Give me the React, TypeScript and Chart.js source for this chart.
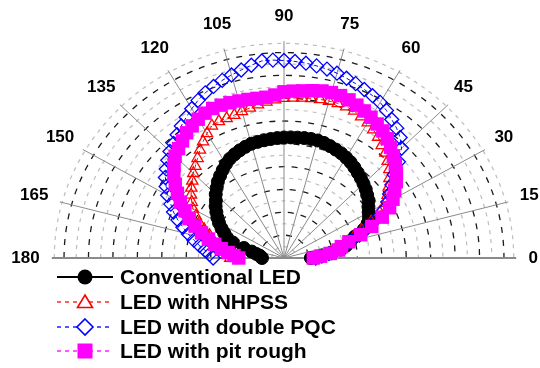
import React, { useEffect, useRef } from 'react';
import { Chart, registerables } from 'chart.js';

Chart.register(...registerables);

// ---- data (radial intensity, arbitrary units = grid rings) ----
const angles = [
  0, 3, 6, 9, 12, 15, 18, 21, 24, 27,
  30, 33, 36, 39, 42, 45, 48, 51, 54, 57,
  60, 63, 66, 69, 72, 75, 78, 81, 84, 87,
  90, 93, 96, 99, 102, 105, 108, 111, 114, 117,
  120, 123, 126, 129, 132, 135, 138, 141, 144, 147,
  150, 153, 156, 159, 162, 165, 168, 171, 174, 177,
  180,
];

const conventionalLED = [
  1.1, 1.5, 1.95, 2.35, 2.6, 2.8, 3.05, 3.5, 3.75, 3.9,
  4.0, 4.12, 4.28, 4.38, 4.5, 4.6, 4.7, 4.8, 4.9, 5.0,
  5.08, 5.15, 5.2, 5.25, 5.3, 5.33, 5.33, 5.32, 5.3, 5.29,
  5.28, 5.26, 5.24, 5.22, 5.2, 5.18, 5.12, 5.05, 4.97, 4.88,
  4.75, 4.6, 4.45, 4.3, 4.12, 3.95, 3.75, 3.6, 3.42, 3.25,
  3.07, 2.87, 2.68, 2.5, 2.2, 1.7, 1.35, 1.15, 1.0, 0.95,
  0.9,
];

const ledNHPSS = [
  1.4, 1.6, 1.9, 2.2, 2.45, 2.7, 3.0, 3.4, 3.9, 4.4,
  4.8, 5.05, 5.3, 5.55, 5.8, 6.0, 6.2, 6.35, 6.55, 6.7,
  6.85, 6.95, 7.05, 7.1, 7.12, 7.12, 7.1, 7.08, 7.05, 7.02,
  7.0, 6.95, 6.88, 6.8, 6.72, 6.65, 6.58, 6.55, 6.55, 6.5,
  6.3, 6.08, 5.85, 5.62, 5.42, 5.25, 5.05, 4.88, 4.7, 4.5,
  4.3, 4.05, 3.8, 3.5, 3.2, 3.0, 2.85, 2.72, 2.55, 2.35,
  2.2,
];

const ledDoublePQC = [
  1.3, 1.55, 1.85, 2.15, 2.5, 2.85, 3.25, 3.65, 4.1, 4.55,
  4.9, 5.15, 5.45, 5.8, 6.3, 6.8, 7.1, 7.32, 7.5, 7.7,
  7.87, 7.98, 8.08, 8.18, 8.28, 8.38, 8.46, 8.52, 8.58, 8.62,
  8.65, 8.68, 8.68, 8.55, 8.42, 8.3, 8.18, 8.05, 7.92, 7.75,
  7.55, 7.35, 7.15, 6.95, 6.75, 6.6, 6.4, 6.2, 6.0, 5.75,
  5.5, 5.2, 4.95, 4.65, 4.35, 4.05, 3.77, 3.5, 3.25, 3.05,
  2.9,
];

const ledPitRough = [
  1.2, 1.5, 1.9, 2.25, 2.4, 2.75, 3.3, 3.85, 4.4, 4.85,
  5.15, 5.4, 5.68, 5.92, 6.13, 6.33, 6.52, 6.72, 6.88, 7.0,
  7.12, 7.23, 7.33, 7.42, 7.48, 7.5, 7.48, 7.42, 7.36, 7.32,
  7.28, 7.15, 7.08, 7.08, 7.1, 7.12, 7.15, 7.17, 7.17, 7.12,
  7.02, 6.9, 6.78, 6.6, 6.45, 6.3, 6.05, 5.8, 5.5, 5.2,
  4.9, 4.55, 4.25, 3.9, 3.55, 3.2, 2.9, 2.6, 2.3, 2.05,
  1.85,
];

const seriesNames = [
  'Conventional LED',
  'LED with NHPSS',
  'LED with double PQC',
  'LED with pit rough',
];

const spokeAngles = [0, 15, 30, 45, 60, 75, 90, 105, 120, 135, 150, 165, 180];
const angleTickLabels = ['0', '15', '30', '45', '60', '75', '90', '105', '120', '135', '150', '165', '180'];
const majorRings = [1, 2, 3, 4, 5, 6, 7, 8, 9];
const minorRings = [0.5, 1.5, 2.5, 3.5, 4.5, 5.5, 6.5, 7.5, 8.5, 9.4];

// ---- layout constants (pixel geometry of the polar frame) ----
const CX = 284;
const CY = 258;
const UX = 24.44;
const UY = 22.83;
const W = 540;
const H = 368;
const SPOKE_R = 9.5;
const LABEL_RX = 10.0;
const LABEL_RY = 10.34;
const FONT = '"Liberation Sans", Arial, Helvetica, sans-serif';

const rad = (a: number) => (a * Math.PI) / 180;

const gridPlugin = {
  id: 'polarGrid',
  beforeDatasetsDraw(chart: any) {
    const { ctx, scales } = chart;
    const xs = scales.x;
    const ys = scales.y;
    const cx = xs.getPixelForValue(0);
    const cy = ys.getPixelForValue(0);
    const ux = xs.getPixelForValue(1) - cx;
    const uy = cy - ys.getPixelForValue(1);
    ctx.save();
    // minor (gray) rings
    ctx.strokeStyle = '#bdbdbd';
    ctx.lineWidth = 1.2;
    ctx.setLineDash([4, 5]);
    minorRings.forEach((r) => {
      ctx.beginPath();
      ctx.ellipse(cx, cy, r * ux, r * uy, 0, Math.PI, 2 * Math.PI);
      ctx.stroke();
    });
    // major (black) rings
    ctx.strokeStyle = '#1a1a1a';
    ctx.lineWidth = 1.3;
    ctx.setLineDash([6, 7]);
    majorRings.forEach((r) => {
      ctx.beginPath();
      ctx.ellipse(cx, cy, r * ux, r * uy, 0, Math.PI, 2 * Math.PI);
      ctx.stroke();
    });
    // spokes
    ctx.setLineDash([]);
    ctx.strokeStyle = '#8a8a8a';
    spokeAngles.forEach((a) => {
      ctx.lineWidth = a === 0 || a === 180 ? 2 : 1;
      ctx.beginPath();
      ctx.moveTo(cx, cy);
      ctx.lineTo(
        xs.getPixelForValue(SPOKE_R * Math.cos(rad(a))),
        ys.getPixelForValue(SPOKE_R * Math.sin(rad(a)))
      );
      ctx.stroke();
    });
    // angle labels (anchored just outside the spokes, pushed outward by half their size)
    ctx.fillStyle = '#000';
    ctx.font = `bold 17px ${FONT}`;
    ctx.textAlign = 'center';
    ctx.textBaseline = 'middle';
    const th = 13;
    spokeAngles.forEach((a, i) => {
      const c = Math.cos(rad(a));
      const s = Math.sin(rad(a));
      const tw = ctx.measureText(angleTickLabels[i]).width;
      const ax = cx + LABEL_RX * ux * c + (c * tw) / 2;
      const ay = cy - LABEL_RY * uy * s - (s * th) / 2;
      ctx.fillText(angleTickLabels[i], ax, ay + 0.5);
    });
    ctx.restore();
  },
};

const legendPlugin = {
  id: 'lineLegend',
  afterDraw(chart: any) {
    const { ctx } = chart;
    const rows = [277, 302, 327, 351];
    const x0 = 57;
    const x1 = 113;
    const mx = 85;
    ctx.save();
    rows.forEach((y, i) => {
      // line sample
      ctx.beginPath();
      if (i === 0) {
        ctx.setLineDash([]);
        ctx.strokeStyle = '#000';
        ctx.lineWidth = 2;
      } else {
        ctx.setLineDash([4, 4]);
        ctx.lineWidth = 1.3;
        ctx.strokeStyle = i === 1 ? '#ff2a2a' : i === 2 ? '#2020ff' : '#ff20ff';
      }
      ctx.moveTo(x0, y);
      ctx.lineTo(x1, y);
      ctx.stroke();
      ctx.setLineDash([]);
      // marker
      ctx.beginPath();
      if (i === 0) {
        ctx.fillStyle = '#000';
        ctx.arc(mx, y, 7.5, 0, 2 * Math.PI);
        ctx.fill();
      } else if (i === 1) {
        ctx.fillStyle = '#fff';
        ctx.strokeStyle = '#ff0000';
        ctx.lineWidth = 1.6;
        ctx.moveTo(mx, y - 7);
        ctx.lineTo(mx + 7.5, y + 5.5);
        ctx.lineTo(mx - 7.5, y + 5.5);
        ctx.closePath();
        ctx.fill();
        ctx.stroke();
      } else if (i === 2) {
        ctx.fillStyle = '#fff';
        ctx.strokeStyle = '#0000ff';
        ctx.lineWidth = 1.6;
        ctx.moveTo(mx, y - 8);
        ctx.lineTo(mx + 8, y);
        ctx.lineTo(mx, y + 8);
        ctx.lineTo(mx - 8, y);
        ctx.closePath();
        ctx.fill();
        ctx.stroke();
      } else {
        ctx.fillStyle = '#ff00ff';
        ctx.fillRect(mx - 7.5, y - 7.5, 15, 15);
      }
      // text
      ctx.fillStyle = '#000';
      ctx.font = `bold 21px ${FONT}`;
      ctx.textAlign = 'left';
      ctx.textBaseline = 'middle';
      ctx.fillText(seriesNames[i], 120, y + 1);
    });
    ctx.restore();
  },
};

const toXY = (rs: number[]) =>
  rs.map((r, i) => ({ x: r * Math.cos(rad(angles[i])), y: r * Math.sin(rad(angles[i])) }));

export default function App() {
  const ref = useRef<HTMLCanvasElement>(null);
  useEffect(() => {
    if (!ref.current) return;
    const chart = new Chart(ref.current, {
      type: 'scatter',
      data: {
        datasets: [
          {
            label: seriesNames[0],
            data: toXY(conventionalLED),
            showLine: true,
            borderColor: '#000',
            borderWidth: 2,
            pointStyle: 'circle',
            pointRadius: 6.5,
            pointBackgroundColor: '#000',
            pointBorderColor: '#000',
            pointBorderWidth: 1,
            order: 3,
          },
          {
            label: seriesNames[1],
            data: toXY(ledNHPSS),
            showLine: true,
            borderColor: '#ff0000',
            borderWidth: 1,
            borderDash: [4, 3],
            pointStyle: 'triangle',
            pointRadius: 6.5,
            pointBackgroundColor: 'rgba(0,0,0,0)',
            pointBorderColor: '#ff0000',
            pointBorderWidth: 1.3,
            order: 2,
          },
          {
            label: seriesNames[2],
            data: toXY(ledDoublePQC),
            showLine: true,
            borderColor: '#0000ff',
            borderWidth: 1,
            borderDash: [4, 3],
            pointStyle: 'rectRot',
            pointRadius: 7,
            pointBackgroundColor: 'rgba(0,0,0,0)',
            pointBorderColor: '#0000ff',
            pointBorderWidth: 1.3,
            order: 1,
          },
          {
            label: seriesNames[3],
            data: toXY(ledPitRough),
            showLine: true,
            borderColor: '#ff00ff',
            borderWidth: 1,
            borderDash: [4, 3],
            pointStyle: 'rect',
            pointRadius: 9.5,
            pointBackgroundColor: '#ff00ff',
            pointBorderColor: '#ff00ff',
            pointBorderWidth: 0,
            order: 0,
          },
        ],
      },
      options: {
        responsive: false,
        animation: false,
        devicePixelRatio: 1,
        events: [],
        layout: { padding: 0, autoPadding: false },
        plugins: { legend: { display: false }, tooltip: { enabled: false } },
        scales: {
          x: { type: 'linear', display: false, min: -CX / UX, max: (W - CX) / UX },
          y: { type: 'linear', display: false, min: -(H - CY) / UY, max: CY / UY },
        },
      },
      plugins: [gridPlugin, legendPlugin],
    });
    return () => chart.destroy();
  }, []);
  return (
    <div style={{ position: 'absolute', left: 0, top: 0, width: W, height: H, background: '#fff' }}>
      <canvas ref={ref} width={W} height={H} style={{ display: 'block' }} />
    </div>
  );
}
